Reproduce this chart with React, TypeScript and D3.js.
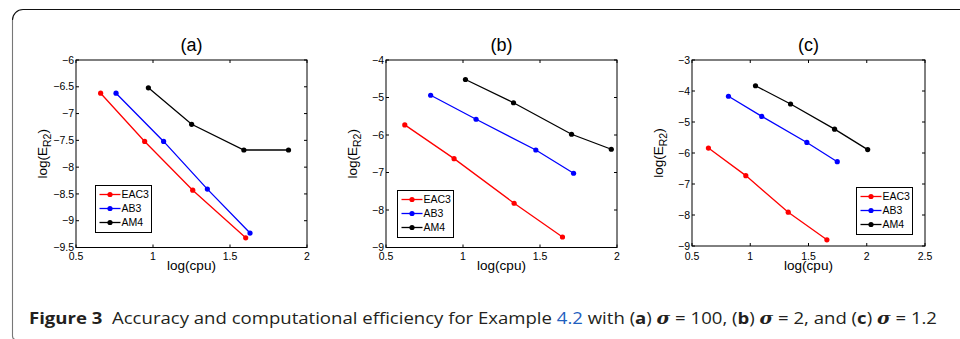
import React from "react";
import * as d3 from "d3";

const seriesNames = ["EAC3", "AB3", "AM4"];
const seriesColors = ["#ff0000", "#0000ff", "#000000"];
const panelTitles = ["(a)", "(b)", "(c)"];

// Panel (a)
const aEAC3x = [0.66, 0.946, 1.258, 1.602];
const aEAC3y = [-6.62, -7.52, -8.43, -9.32];
const aAB3x = [0.76, 1.069, 1.353, 1.63];
const aAB3y = [-6.62, -7.52, -8.41, -9.23];
const aAM4x = [0.97, 1.251, 1.59, 1.88];
const aAM4y = [-6.52, -7.2, -7.68, -7.68];
const aXTicks = [0.5, 1, 1.5, 2];
const aYTicks = [-6, -6.5, -7, -7.5, -8, -8.5, -9, -9.5];

// Panel (b)
const bEAC3x = [0.622, 0.942, 1.332, 1.646];
const bEAC3y = [-5.73, -6.63, -7.82, -8.72];
const bAB3x = [0.79, 1.085, 1.473, 1.718];
const bAB3y = [-4.94, -5.58, -6.4, -7.02];
const bAM4x = [1.016, 1.328, 1.705, 1.963];
const bAM4y = [-4.52, -5.14, -5.98, -6.38];
const bXTicks = [0.5, 1, 1.5, 2];
const bYTicks = [-4, -5, -6, -7, -8, -9];

// Panel (c)
const cEAC3x = [0.641, 0.962, 1.326, 1.658];
const cEAC3y = [-5.84, -6.73, -7.91, -8.8];
const cAB3x = [0.813, 1.099, 1.486, 1.747];
const cAB3y = [-4.17, -4.82, -5.66, -6.28];
const cAM4x = [1.045, 1.346, 1.724, 2.008];
const cAM4y = [-3.83, -4.42, -5.23, -5.89];
const cXTicks = [0.5, 1, 1.5, 2, 2.5];
const cYTicks = [-3, -4, -5, -6, -7, -8, -9];

const xLabel = "log(cpu)";
const captionFig = "Figure 3";
const captionText1 = "  Accuracy and computational efficiency for Example ";
const captionLink = "4.2";
const captionSigmaValues = ["100", "2", "1.2"];
const captionLetters = ["a", "b", "c"];

type Panel = {
  title: string;
  xs: number[][];
  ys: number[][];
  xTicks: number[];
  yTicks: number[];
  left: number;
  right: number;
  top: number;
  bottom: number;
  legend: [number, number];
  yLabelX: number;
};

const panels: Panel[] = [
  {
    title: panelTitles[0],
    xs: [aEAC3x, aAB3x, aAM4x],
    ys: [aEAC3y, aAB3y, aAM4y],
    xTicks: aXTicks,
    yTicks: aYTicks,
    left: 76,
    right: 307,
    top: 60,
    bottom: 247.5,
    legend: [95.5, 185.5],
    yLabelX: 47,
  },
  {
    title: panelTitles[1],
    xs: [bEAC3x, bAB3x, bAM4x],
    ys: [bEAC3y, bAB3y, bAM4y],
    xTicks: bXTicks,
    yTicks: bYTicks,
    left: 386,
    right: 617,
    top: 60,
    bottom: 247.5,
    legend: [397.5, 190.5],
    yLabelX: 357,
  },
  {
    title: panelTitles[2],
    xs: [cEAC3x, cAB3x, cAM4x],
    ys: [cEAC3y, cAB3y, cAM4y],
    xTicks: cXTicks,
    yTicks: cYTicks,
    left: 692,
    right: 925,
    top: 60,
    bottom: 246,
    legend: [856.5, 187.5],
    yLabelX: 663,
  },
];

const fmt = (v: number) => String(v).replace("-", "\u2212");
const FONT = "'Liberation Sans', Arial, Helvetica, sans-serif";

function PanelView({ p }: { p: Panel }) {
  const xMin = p.xTicks[0];
  const xMax = p.xTicks[p.xTicks.length - 1];
  const yMax = p.yTicks[0];
  const yMin = p.yTicks[p.yTicks.length - 1];
  const x = d3.scaleLinear().domain([xMin, xMax]).range([p.left, p.right]);
  const y = d3.scaleLinear().domain([yMin, yMax]).range([p.bottom, p.top]);
  const line = d3
    .line<[number, number]>()
    .x((d) => x(d[0]))
    .y((d) => y(d[1]));
  const tl = 3;
  const cx = (p.left + p.right) / 2;
  const cy = (p.top + p.bottom) / 2;
  const [lx, ly] = p.legend;
  return (
    <g fontFamily={FONT}>
      <text x={cx} y={51} fontSize={18} textAnchor="middle" fill="#000">
        {p.title}
      </text>
      <rect
        x={p.left}
        y={p.top}
        width={p.right - p.left}
        height={p.bottom - p.top}
        fill="#fff"
        stroke="#000"
        strokeWidth={1}
      />
      {p.xTicks.map((t) => (
        <g key={"x" + t}>
          <line x1={x(t)} x2={x(t)} y1={p.bottom} y2={p.bottom - tl} stroke="#000" />
          <line x1={x(t)} x2={x(t)} y1={p.top} y2={p.top + tl} stroke="#000" />
          <text x={x(t)} y={259.5} fontSize={10.5} textAnchor="middle" fill="#000">
            {fmt(t)}
          </text>
        </g>
      ))}
      {p.yTicks.map((t) => (
        <g key={"y" + t}>
          <line x1={p.left} x2={p.left + tl} y1={y(t)} y2={y(t)} stroke="#000" />
          <line x1={p.right} x2={p.right - tl} y1={y(t)} y2={y(t)} stroke="#000" />
          <text
            x={p.left - 2}
            y={y(t)}
            dy="0.35em"
            fontSize={10.5}
            textAnchor="end"
            fill="#000"
          >
            {fmt(t)}
          </text>
        </g>
      ))}
      <text x={cx} y={270} fontSize={13.5} textAnchor="middle" fill="#000">
        {xLabel}
      </text>
      <text
        transform={`translate(${p.yLabelX},${cy}) rotate(-90)`}
        fontSize={13.5}
        textAnchor="middle"
        fill="#000"
      >
        log(E
        <tspan fontSize={10.5} dy={4}>
          R2
        </tspan>
        <tspan dy={-4}>)</tspan>
      </text>
      {p.xs.map((xs, i) => {
        const pts: [number, number][] = xs.map((v, j) => [v, p.ys[i][j]]);
        return (
          <g key={"s" + i}>
            <path d={line(pts) || ""} fill="none" stroke={seriesColors[i]} strokeWidth={1.3} />
            {pts.map((d, j) => (
              <circle key={j} cx={x(d[0])} cy={y(d[1])} r={2.6} fill={seriesColors[i]} />
            ))}
          </g>
        );
      })}
      <rect x={lx} y={ly} width={56} height={47} fill="#fff" stroke="#000" strokeWidth={1} />
      {seriesNames.map((n, i) => {
        const ry = ly + 9 + i * 14;
        return (
          <g key={n}>
            <line x1={lx + 4} x2={lx + 25} y1={ry} y2={ry} stroke={seriesColors[i]} strokeWidth={1.3} />
            <circle cx={lx + 14.5} cy={ry} r={2.6} fill={seriesColors[i]} />
            <text x={lx + 26} y={ry} dy="0.36em" fontSize={10.5} fill="#000">
              {n}
            </text>
          </g>
        );
      })}
    </g>
  );
}

export default function App() {
  const seps = [" with (", ", (", ", and ("];
  return (
    <div style={{ position: "absolute", left: 0, top: 0 }}>
      <svg width={960} height={339} style={{ display: "block", background: "#fff" }}>
        <path d="M12.5,20 A10.5,10.5 0 0 1 23,9.5 L960,9.5" fill="none" stroke="#111" strokeWidth={1.1} />
        <path d="M12.5,20 L12.5,336 Q12.5,339 15,339.5" fill="none" stroke="#777" strokeWidth={1.1} />
        {panels.map((p, i) => (
          <PanelView key={i} p={p} />
        ))}
        <text
          x={29}
          y={324}
          fontSize={16.5}
          fontFamily="'Open Sans', 'Noto Sans', sans-serif"
          fill="#231f20"
          textLength={908}
          lengthAdjust="spacingAndGlyphs"
          style={{ whiteSpace: "pre" }}
        >
          <tspan fontWeight="bold">{captionFig}</tspan>
          <tspan>{captionText1}</tspan>
          <tspan fill="#1f5fbf">{captionLink}</tspan>
          {captionLetters.map((l, i) => (
            <React.Fragment key={l}>
              <tspan>{seps[i]}</tspan>
              <tspan fontWeight="bold">{l}</tspan>
              <tspan>{") "}</tspan>
              <tspan fontStyle="italic" fontFamily="'DejaVu Serif', serif" fontWeight="bold">
                σ
              </tspan>
              <tspan>{" = " + captionSigmaValues[i]}</tspan>
            </React.Fragment>
          ))}
        </text>
      </svg>
    </div>
  );
}
